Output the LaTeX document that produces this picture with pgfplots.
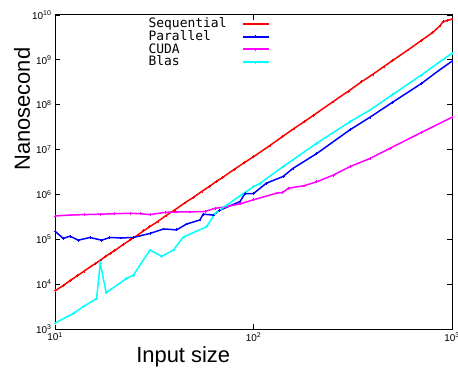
\documentclass[border=0pt]{standalone}
\usepackage{fontspec}
\setmainfont{Liberation Sans}
\newfontfamily\legfont{DejaVu Sans Mono}
\usepackage{pgfplots}
\pgfplotsset{compat=1.18}
\definecolor{cRed}{RGB}{255,0,0}
\definecolor{cBlue}{RGB}{0,0,255}
\definecolor{cMag}{RGB}{255,0,255}
\definecolor{cCyan}{RGB}{0,255,255}
\begin{document}
\begin{tikzpicture}
\useasboundingbox (-55bp,-40bp) rectangle (403bp,329bp);
\begin{axis}[
 at={(0,0)}, anchor=south west,
 scale only axis, width=397bp, height=314bp,
 xmode=log, ymode=log,
 xmin=10, xmax=1000, ymin=1e3, ymax=1e10,
 xtick={10,100,1000},
 xticklabels={10\textsuperscript{1},10\textsuperscript{2},10\textsuperscript{3}},
 ytick={1e3,1e4,1e5,1e6,1e7,1e8,1e9,1e10},
 yticklabels={10\textsuperscript{3},10\textsuperscript{4},10\textsuperscript{5},10\textsuperscript{6},10\textsuperscript{7},10\textsuperscript{8},10\textsuperscript{9},10\textsuperscript{10}},
 xminorticks=false, yminorticks=false,
 tick align=inside, major tick length=5bp,
 tick style={black, line width=0.8pt},
 axis line style={line width=1pt},
 ticklabel style={font=\fontsize{10}{12}\selectfont},
 xlabel={Input size}, ylabel={Nanosecond},
 label style={font=\fontsize{22}{26}\selectfont},
 xlabel style={at={(axis description cs:0.323,-0.09)}, anchor=center},
 ylabel style={at={(axis description cs:-0.083,0.70)}, anchor=center},
 legend cell align=left, legend plot pos=right,
 legend style={at={(axis description cs:0.234,0.99)}, anchor=north west, draw=none, fill=none,
   font=\legfont\fontsize{13}{13}\selectfont, row sep=1.2bp, column sep=15bp, inner sep=0pt,
   nodes={inner sep=0.5bp, text height=9bp, text depth=1.5bp}},
 legend image code/.code={\draw[#1, mark=none, line width=2pt] (0cm,0cm) -- (0.9cm,0cm);
   \draw[#1, only marks] plot coordinates {(0.45cm,0cm)};},
 every axis plot/.append style={line width=1.5pt, mark=+, mark size=1.4bp, mark options={solid, line width=0.8pt}},
]
\addplot[cRed] coordinates {
(10,7079) (11,9333) (12,12300) (13,15490) (14,19500) (15,23990) (16,28840) (17,34670) (18,41690) (19,48980) (20,56230)
(22,75860) (24,97720) (26,123000) (28,154900) (30,190500) (33,251200) (36,331100) (40,446700) (45,645700) (50,871000)
(55,1175000) (60,1514000) (65,1950000) (70,2399000) (80,3631000) (90,5129000) (100,6918000) (120,1.202e7) (140,1.950e7)
(160,2.951e7) (180,4.169e7) (200,5.754e7) (250,1.148e8) (300,1.995e8) (350,3.236e8) (400,4.786e8) (450,6.918e8)
(500,9.550e8) (600,1.660e9) (700,2.692e9) (800,4.074e9) (870,5.754e9) (900,7.079e9) (950,7.586e9) (1000,8.128e9)
};
\addlegendentry{Sequential}
\addplot[cBlue] coordinates {
(10,151400) (11,104700) (11.9,117500) (13.1,95500) (15,109600) (17.2,95500) (18.9,109600) (21.5,107200) (24.8,109600)
(30.1,134900) (35.2,169800) (41,162200) (46,218800) (53.7,269200) (55.8,363100) (62.7,346700) (67.7,446700)
(85.5,691800) (90.6,1.047e6) (100,1.047e6) (116,1.778e6) (141,2.512e6) (158,3.802e6) (208,8.128e6) (306,2.754e7)
(386,5.248e7) (500,1.122e8) (700,2.951e8) (850,5.623e8) (1000,9.333e8)
};
\addlegendentry{Parallel}
\addplot[cMag] coordinates {
(10,331100) (12,346700) (14,354800) (16.9,363100) (20,371500) (23.9,380200) (27,371500) (30.1,354800) (35.8,398100)
(41,407400) (47.9,407400) (57,416900) (64,489800) (71.8,524800) (85.5,616600) (100,758600) (131,1.072e6) (140,1.096e6)
(150,1.380e6) (178,1.549e6) (208,1.905e6) (252,2.692e6) (306,4.169e6) (386,6.310e6) (488,1.072e7) (700,2.399e7) (1000,5.248e7)
};
\addlegendentry{CUDA}
\addplot[cCyan] coordinates {
(10,1349) (12.4,2239) (13.9,3162) (16.2,4786) (16.9,29510) (18.1,6457) (23.0,13490) (24.8,15850) (30.1,57540)
(34.5,41690) (39.5,57540) (44.3,112200) (58.1,190500) (64.0,380200) (73.3,575400) (87.5,1.0e6) (100,1.479e6)
(108,1.778e6) (141,4.169e6) (208,1.380e7) (306,4.169e7) (386,7.586e7) (500,1.660e8) (700,4.571e8) (850,8.511e8) (1000,1.4e9)
};
\addlegendentry{Blas}
\end{axis}
\end{tikzpicture}
\end{document}
